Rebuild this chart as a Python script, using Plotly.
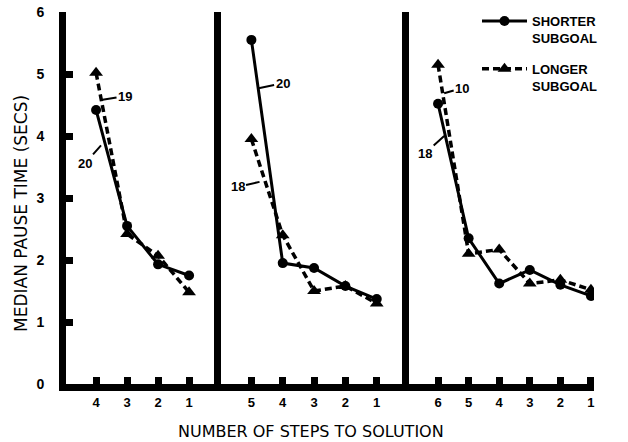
import plotly.graph_objects as go

# ---- data ----
steps_p1 = [4, 3, 2, 1]
shorter_p1 = [4.42, 2.55, 1.93, 1.75]
longer_p1 = [5.02, 2.42, 2.07, 1.48]

steps_p2 = [5, 4, 3, 2, 1]
shorter_p2 = [5.55, 1.95, 1.87, 1.58, 1.37]
longer_p2 = [3.95, 2.40, 1.50, 1.58, 1.30]

steps_p3 = [6, 5, 4, 3, 2, 1]
shorter_p3 = [4.52, 2.35, 1.62, 1.84, 1.60, 1.42]
longer_p3 = [5.15, 2.10, 2.17, 1.62, 1.68, 1.52]

y_ticks = [0, 1, 2, 3, 4, 5, 6]
series_names = ["SHORTER<br>SUBGOAL", "LONGER<br>SUBGOAL"]

FONT = "Liberation Sans, Arial, sans-serif"
TFONT = "DejaVu Sans, Liberation Sans, sans-serif"
BLACK = "#000000"

fig = go.Figure()

panels = [
    (steps_p1, shorter_p1, longer_p1, "x", "y"),
    (steps_p2, shorter_p2, longer_p2, "x2", "y2"),
    (steps_p3, shorter_p3, longer_p3, "x3", "y3"),
]

for i, (st, sh, lo, xa, ya) in enumerate(panels):
    fig.add_trace(go.Scatter(
        x=st, y=sh, xaxis=xa, yaxis=ya, mode="lines+markers",
        name=series_names[0], legendgroup="a", showlegend=(i == 0),
        line=dict(color=BLACK, width=3),
        marker=dict(symbol="circle", size=10, color=BLACK),
    ))
    fig.add_trace(go.Scatter(
        x=st, y=lo, xaxis=xa, yaxis=ya, mode="lines+markers",
        name=series_names[1], legendgroup="b", showlegend=(i == 0),
        line=dict(color=BLACK, width=3.5, dash="7px,4px"),
        marker=dict(symbol="triangle-up", size=12, color=BLACK),
    ))

plot_w = 628 - 66 - 34
plot_h = 442 - 12 - 58
d1 = 155 / plot_w
d2 = 343 / plot_w

xcommon = dict(
    showgrid=False, zeroline=False, showline=True, linewidth=7, linecolor=BLACK,
    ticks="inside", ticklen=7, tickwidth=7, tickcolor=BLACK,
    tickfont=dict(family=FONT, size=13, color=BLACK, weight="bold"),
    fixedrange=True,
)
fig.update_layout(
    xaxis=dict(domain=[0, d1], range=[4.97, -0.03], tickvals=steps_p1,
               ticktext=[str(s) for s in steps_p1], anchor="y", **xcommon),
    xaxis2=dict(domain=[d1, d2], range=[5.97, -0.03], tickvals=steps_p2,
                ticktext=[str(s) for s in steps_p2], anchor="y2", **xcommon),
    xaxis3=dict(domain=[d2, 1], range=[6.95, 0.9], tickvals=steps_p3,
                ticktext=[str(s) for s in steps_p3], anchor="y3", **xcommon),
    yaxis=dict(range=[0, 6], tickvals=y_ticks, ticktext=[str(v) for v in y_ticks],
               showgrid=False, zeroline=False, showline=True, linewidth=7,
               linecolor=BLACK, ticks="inside", ticklen=7, tickwidth=7,
               tickcolor=BLACK, anchor="x", fixedrange=True,
               tickfont=dict(family=FONT, size=14, color=BLACK, weight="bold"),
               ticklabelstandoff=12),
    yaxis2=dict(range=[0, 6], matches="y", anchor="x2", showgrid=False,
                zeroline=False, showline=True, linewidth=7, linecolor=BLACK,
                ticks="", showticklabels=False),
    yaxis3=dict(range=[0, 6], matches="y", anchor="x3", showgrid=False,
                zeroline=False, showline=True, linewidth=7, linecolor=BLACK,
                ticks="", showticklabels=False),
    width=628, height=442,
    margin=dict(l=66, r=34, t=12, b=58, autoexpand=False),
    paper_bgcolor="white", plot_bgcolor="white",
    showlegend=True,
    legend=dict(x=(483 - 66 - 6) / plot_w, y=(384 - 6) / plot_h, xanchor="left",
                yanchor="top", valign="top", traceorder="grouped",
                tracegroupgap=11, itemwidth=45, bgcolor="rgba(0,0,0,0)",
                font=dict(family=FONT, size=13, color=BLACK, weight="bold")),
)

ann_font = dict(family=FONT, size=13, color=BLACK, weight="bold")
labels = [
    ("x", "y", 3.84, 4.58, "19", 24, -4),
    ("x", "y", 3.84, 3.85, "20", -16, 18),
    ("x2", "y2", 4.77, 4.77, "20", 24, -5),
    ("x2", "y2", 4.74, 3.26, "18", -22, 5),
    ("x3", "y3", 5.80, 4.69, "10", 18, -5),
    ("x3", "y3", 5.80, 4.00, "18", -19, 17),
]
for xr, yr, xv, yv, t, ax, ay in labels:
    fig.add_annotation(x=xv, y=yv, xref=xr, yref=yr, text=t, showarrow=True,
                       arrowhead=0, arrowwidth=2, arrowcolor=BLACK,
                       ax=ax, ay=ay, standoff=0, font=ann_font)

fig.add_annotation(text="NUMBER OF STEPS TO SOLUTION", xref="paper", yref="paper",
                   x=(311 - 66) / plot_w, y=(384 - 432) / plot_h, showarrow=False,
                   xanchor="center", yanchor="middle",
                   font=dict(family=TFONT, size=16, color=BLACK))
fig.add_annotation(text="MEDIAN PAUSE TIME (SECS)", xref="paper", yref="paper",
                   x=(21 - 66) / plot_w, y=(384 - 214) / plot_h, showarrow=False,
                   textangle=-90, xanchor="center", yanchor="middle",
                   font=dict(family=TFONT, size=17, color=BLACK))

fig.write_html("out.html",
               config={"displayModeBar": False, "staticPlot": True},
               post_script="document.body.style.margin='0';"
                           "document.body.style.overflow='hidden';")
